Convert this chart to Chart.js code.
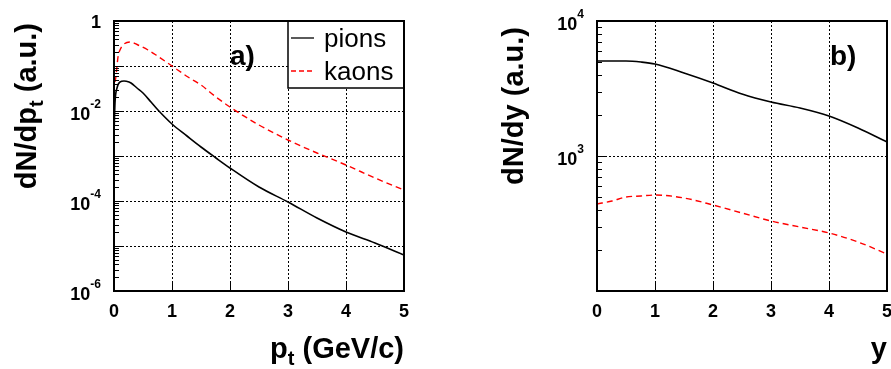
<!DOCTYPE html>
<html>
<head>
<meta charset="utf-8">
<script src="https://cdn.jsdelivr.net/npm/chart.js@4.4.0/dist/chart.umd.min.js"></script>
<style>
  html, body { margin: 0; padding: 0; background: #fff; }
  #wrap { position: relative; width: 891px; height: 369px; overflow: hidden; background: #fff; }
  canvas { position: absolute; top: 0; }
  #chart-a { left: 0; }
  #chart-b { left: 450px; }
</style>
</head>
<body>
<div id="wrap">
  <canvas id="chart-a" width="450" height="369"></canvas>
  <canvas id="chart-b" width="441" height="369"></canvas>
</div>
<script>
// panel a) transverse momentum spectra
const ptPions = [0.003, 0.02, 0.05, 0.1, 0.18, 0.25, 0.3, 0.4, 0.5, 0.64, 0.76, 1.0, 1.25, 1.5, 1.75, 2.0, 2.5, 3.0, 3.5, 4.0, 4.5, 5.0];
const pionsPt = [3e-3, 0.015, 0.033, 0.043, 0.047, 0.045, 0.041, 0.032, 0.025, 0.016, 0.0105, 5.2e-3, 2.8e-3, 1.55e-3, 8.9e-4, 5.3e-4, 2.1e-4, 9.3e-5, 4.2e-5, 2.1e-5, 1.15e-5, 6.3e-6];
const ptKaons = [0.02, 0.03, 0.045, 0.07, 0.1, 0.155, 0.27, 0.41, 0.59, 0.73, 1.0, 1.28, 1.5, 1.75, 2.0, 2.5, 3.0, 3.5, 4.0, 4.5, 5.0];
const kaonsPt = [0.045, 0.06, 0.1, 0.16, 0.227, 0.29, 0.335, 0.29, 0.227, 0.175, 0.1, 0.058, 0.037, 0.021, 0.0125, 4.9e-3, 2.3e-3, 1.15e-3, 6.2e-4, 3.3e-4, 1.8e-4];

// panel b) rapidity spectra
const rapidity = [0, 0.25, 0.5, 0.75, 1, 1.5, 2, 2.5, 3, 3.5, 4, 4.5, 5];
const pionsY = [5080, 5080, 5080, 4940, 4780, 4100, 3460, 2870, 2500, 2260, 1980, 1600, 1270];
const kaonsY = [441, 467, 494, 508, 514, 486, 434, 377, 332, 299, 270, 232, 188];

// axes
const xTicks = [0, 1, 2, 3, 4, 5];
const xTickLabels = ['0', '1', '2', '3', '4', '5'];
const decadesA = [1e-6, 1e-5, 1e-4, 1e-3, 1e-2, 1e-1, 1];
const yLabelValuesA = [1, 1e-2, 1e-4, 1e-6];
const yTickLabelsA = ['1', '10^-2', '10^-4', '10^-6'];
const decadesB = [1e2, 1e3, 1e4];
const yLabelValuesB = [1e3, 1e4];
const yTickLabelsB = ['10^3', '10^4'];
const seriesNames = ['pions', 'kaons'];

const FONT = '"Liberation Sans", Arial, Helvetica, sans-serif';
const KAON_DASH = [6, 4];

// draw a list of text pieces one after the other (for super/subscripts)
function drawParts(ctx, parts, x, y, align){
    let total = 0;
    parts.forEach(p => {
        ctx.font = p.font;
        p.w = ctx.measureText(p.text).width;
        total += p.w;
    });
    let cx = x;
    if (align === 'right') cx = x - total;
    if (align === 'center') cx = x - total / 2;
    ctx.textAlign = 'left';
    ctx.textBaseline = 'alphabetic';
    parts.forEach(p => {
        ctx.font = p.font;
        ctx.fillText(p.text, cx, y + (p.dy || 0));
        cx += p.w;
    });
}

function tickParts(label){
    const [base, sup] = label.split('^');
    const parts = [{text: base, font: `bold 18px ${FONT}`}];
    if (sup) parts.push({text: sup, font: `bold 12px ${FONT}`, dy: -12});
    return parts;
}

function titleParts(main, sub, rest){
    return [
        {text: main, font: `bold 29px ${FONT}`},
        {text: sub, font: `bold 20px ${FONT}`, dy: 7},
        {text: rest, font: `bold 29px ${FONT}`},
    ];
}

// ROOT-like frame, ticks, labels, titles and legend
function rootStyle(panel){
    return {
        id: 'rootStyle',
        afterDatasetsDraw(chart){
            const ctx = chart.ctx;
            const area = chart.chartArea;
            const xs = chart.scales.x;
            const ys = chart.scales.y;
            ctx.save();
            ctx.fillStyle = '#000';
            ctx.strokeStyle = '#000';

            // legend box
            if (panel.legend){
                const left = area.right - 116;
                const top = area.top;
                ctx.fillStyle = '#fff';
                ctx.fillRect(left, top, area.right - left, 67);
                ctx.lineWidth = 1.5;
                ctx.strokeRect(left, top, area.right - left, 67);
                chart.data.datasets.forEach((ds, i) => {
                    const ly = top + 17 + i * 33;
                    ctx.beginPath();
                    ctx.strokeStyle = ds.borderColor;
                    ctx.lineWidth = 1.3;
                    ctx.setLineDash(i ? [5, 3] : []);
                    ctx.moveTo(left + 3, ly);
                    ctx.lineTo(left + 26, ly);
                    ctx.stroke();
                    ctx.setLineDash([]);
                    ctx.fillStyle = '#000';
                    ctx.font = `26px ${FONT}`;
                    ctx.textAlign = 'left';
                    ctx.textBaseline = 'alphabetic';
                    ctx.fillText(ds.label, left + 36, ly + 9);
                });
                ctx.strokeStyle = '#000';
                ctx.fillStyle = '#000';
            }

            // frame
            ctx.lineWidth = 2;
            ctx.strokeRect(area.left, area.top, area.right - area.left, area.bottom - area.top);

            // y axis ticks (log, major + minor)
            ctx.lineWidth = 1;
            ctx.beginPath();
            panel.decades.forEach(d => {
                for (let k = 1; k <= 9; k++){
                    const v = d * k;
                    if (v > ys.max * 1.0001) break;
                    const py = Math.round(ys.getPixelForValue(v)) + 0.5;
                    const len = k === 1 ? 9 : 5;
                    ctx.moveTo(area.left, py);
                    ctx.lineTo(area.left + len, py);
                }
            });
            // x axis ticks
            xTicks.forEach(v => {
                const px = Math.round(xs.getPixelForValue(v)) + 0.5;
                ctx.moveTo(px, area.bottom);
                ctx.lineTo(px, area.bottom - 8);
            });
            ctx.stroke();

            // tick labels
            xTicks.forEach((v, i) => {
                drawParts(ctx, tickParts(xTickLabels[i]), xs.getPixelForValue(v), area.bottom + 26, 'center');
            });
            panel.yLabelValues.forEach((v, i) => {
                const label = panel.yTickLabels[i];
                const py = ys.getPixelForValue(v) + (label.includes('^') ? 9 : 7);
                drawParts(ctx, tickParts(label), area.left - 13, py, 'right');
            });

            // axis titles
            drawParts(ctx, panel.xTitle, area.right, 358, 'right');
            ctx.save();
            ctx.translate(panel.yTitleX, panel.yTitleTop);
            ctx.rotate(-Math.PI / 2);
            drawParts(ctx, panel.yTitle, 0, 0, 'right');
            ctx.restore();

            // panel tag
            ctx.font = `bold 28px ${FONT}`;
            ctx.textAlign = 'left';
            ctx.fillText(panel.tag, panel.tagX, 65);
            ctx.restore();
        }
    };
}

function makeChart(canvas, panel){
    const width = canvas.width;
    const config = {
        type: 'line',
        data: {datasets: panel.datasets},
        options: {
            responsive: false,
            animation: false,
            devicePixelRatio: 1,
            events: [],
            layout: {
                padding: {left: 0, top: 21, right: width - panel.plotRight, bottom: 0}
            },
            scales: {
                x: {
                    type: 'linear',
                    min: 0,
                    max: 5,
                    alignToPixels: true,
                    ticks: {display: false, stepSize: 1},
                    grid: {color: '#000', lineWidth: 1, drawTicks: false},
                    border: {display: false, dash: [2, 2]},
                    afterFit: (scale) => { scale.height = 369 - 291; },
                },
                y: {
                    type: 'logarithmic',
                    min: panel.yMin,
                    max: panel.yMax,
                    alignToPixels: true,
                    ticks: {display: false},
                    grid: {color: '#000', lineWidth: 1, drawTicks: false},
                    border: {display: false, dash: [2, 2]},
                    afterBuildTicks: (scale) => {
                        scale.ticks = panel.decades.map(v => ({value: v}));
                    },
                    afterFit: (scale) => { scale.width = panel.plotLeft; },
                }
            },
            plugins: {
                legend: {display: false},
                tooltip: {enabled: false}
            }
        },
        plugins: [rootStyle(panel)]
    };
    return new Chart(canvas, config);
}

function toPoints(xValues, yValues){
    return xValues.map((x, i) => ({x: x, y: yValues[i]}));
}

function lineDataset(label, points, dashed){
    return {
        label: label,
        data: points,
        borderColor: dashed ? '#ff0000' : '#000000',
        borderWidth: dashed ? 1.4 : 1.6,
        borderDash: dashed ? KAON_DASH : [],
        pointRadius: 0,
        fill: false,
        cubicInterpolationMode: 'monotone',
    };
}

const panelA = {
    plotLeft: 114,
    plotRight: 404,
    yMin: 1e-6,
    yMax: 1,
    decades: decadesA,
    yLabelValues: yLabelValuesA,
    yTickLabels: yTickLabelsA,
    xTitle: titleParts('p', 't', ' (GeV/c)'),
    yTitle: titleParts('dN/dp', 't', ' (a.u.)'),
    yTitleX: 36,
    yTitleTop: 23,
    tag: 'a)',
    tagX: 230,
    legend: true,
    datasets: [
        lineDataset(seriesNames[0], toPoints(ptPions, pionsPt), false),
        lineDataset(seriesNames[1], toPoints(ptKaons, kaonsPt), true),
    ]
};

const panelB = {
    plotLeft: 147,
    plotRight: 437,
    yMin: 1e2,
    yMax: 1e4,
    decades: decadesB,
    yLabelValues: yLabelValuesB,
    yTickLabels: yTickLabelsB,
    xTitle: [{text: 'y', font: `bold 29px ${FONT}`}],
    yTitle: [{text: 'dN/dy (a.u.)', font: `bold 29px ${FONT}`}],
    yTitleX: 73,
    yTitleTop: 27,
    tag: 'b)',
    tagX: 380,
    legend: false,
    datasets: [
        lineDataset(seriesNames[0], toPoints(rapidity, pionsY), false),
        lineDataset(seriesNames[1], toPoints(rapidity, kaonsY), true),
    ]
};

makeChart(document.getElementById('chart-a'), panelA);
makeChart(document.getElementById('chart-b'), panelB);
</script>
</body>
</html>
